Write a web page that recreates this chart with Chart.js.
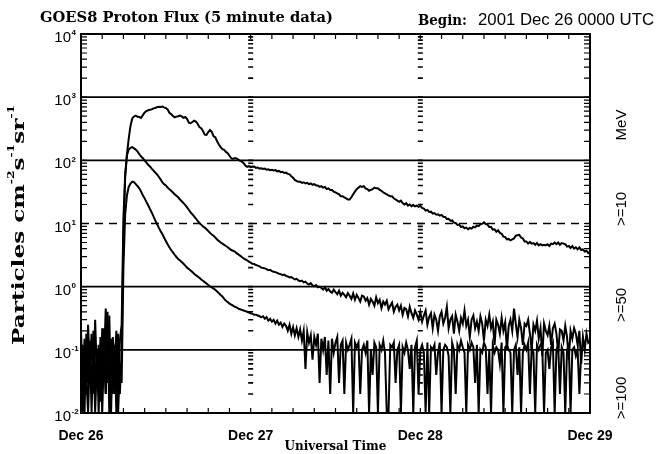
<!DOCTYPE html>
<html>
<head>
<meta charset="utf-8">
<script src="https://cdn.jsdelivr.net/npm/chart.js@4.4.1/dist/chart.umd.min.js"></script>
<style>
  html, body { margin: 0; padding: 0; background: #fff; }
  canvas { display: block; }
</style>
</head>
<body>
<canvas id="flux" width="657" height="454"></canvas>
<script>
// 15 minute samples, Dec 26 00:00 UTC to Dec 29 00:00 UTC (one row per hour)
const STEP_HOURS = 0.25;

// >=10 MeV integral proton flux (pfu)
const p10Flux = [
  0.2, 0.03, 0.15, 0.02,
  0.25, 0.05, 0.18, 0.02,
  0.3, 0.04, 0.12, 0.015,
  0.22, 0.06, 0.45, 0.03,
  0.35, 0.02, 0.16, 0.05,
  0.2, 0.03, 0.14, 0.25,
  12, 60, 125, 220,
  350, 460, 495, 510,
  490, 485, 470, 520,
  575, 600, 620, 630,
  640, 665, 675, 695,
  705, 700, 712, 690,
  672, 640, 565, 540,
  505, 480, 492, 500,
  512, 495, 470, 485,
  455, 395, 388, 405,
  425, 410, 380, 335,
  322, 292, 255, 252,
  280, 302, 282, 240,
  232, 200, 178, 162,
  150, 147, 136, 130,
  118, 108, 105, 109,
  107, 103, 98, 96,
  90, 83, 79, 81,
  78, 79, 80, 76,
  77, 74, 75, 73,
  74, 71, 72, 70,
  71, 69, 70, 67,
  68, 65, 66, 63,
  64, 61, 60, 56,
  53, 49, 47, 46,
  46, 44, 45, 43,
  44, 42, 43, 41,
  42, 40, 40, 38,
  39, 37, 38, 35,
  36, 34, 34, 32,
  31, 30, 29, 27,
  27, 26, 25, 24,
  24, 26, 29, 32,
  35, 37, 39, 38,
  39, 36, 35, 33,
  34, 35, 37, 36,
  36, 34, 33, 31,
  30, 29, 28, 27,
  27, 25, 24, 23,
  22, 23, 21, 20,
  21, 19.2, 20, 18.8,
  19.6, 18.7, 19.2, 18.4,
  19, 17.6, 17.2, 16,
  16.4, 15.2, 15.4, 14.3,
  14.6, 13.8, 14, 13.3,
  13.7, 12.8, 12.7, 11.8,
  11.9, 11.1, 11.2, 10.3,
  10.2, 9.5, 9.6, 8.8,
  9, 8.4, 8.6, 8.1,
  8.5, 8.3, 8.9, 8.7,
  9.3, 9.1, 9.8, 9.9,
  10.4, 9.8, 9.6, 8.8,
  8.8, 8, 8.1, 7.4,
  7.8, 7.1, 6.9, 6.2,
  6.1, 5.6, 5.7, 5.4,
  5.6, 5.8, 6.4, 6.5,
  6.6, 6, 5.8, 5.2,
  5.2, 4.8, 5.1, 4.8,
  4.9, 4.6, 4.9, 4.5,
  4.7, 4.5, 4.6, 4.5,
  4.7, 4.4, 4.8, 4.7,
  5, 4.7, 5, 4.6,
  4.9, 4.8, 4.7, 4.3,
  4.4, 4.1, 4.4, 4.0,
  4.2, 3.9, 4.2, 3.8,
  3.9, 3.6, 3.7, 3.4,
  3.6
];

// >=50 MeV
const p50Flux = [
  0.02, 0.12, 0.01, 0.18,
  0.03, 0.14, 0.01, 0.2,
  0.02, 0.1, 0.01, 0.16,
  0.03, 0.22, 0.02, 0.4,
  0.01, 0.15, 0.02, 0.12,
  0.01, 0.18, 0.02, 0.1,
  6, 55, 120, 148,
  158, 162, 155, 148,
  138, 125, 115, 108,
  100, 92, 85, 80,
  74, 69, 64, 60,
  55, 50, 45, 42,
  40, 37, 35, 33,
  31, 29, 27.5, 26,
  24, 22.5, 21, 19.5,
  18, 16.5, 15, 14,
  13, 12, 11, 10.2,
  9.6, 9, 8.6, 8.1,
  7.6, 7.1, 6.7, 6.4,
  6, 5.6, 5.3, 5,
  4.8, 4.6, 4.4, 4.2,
  4, 3.8, 3.7, 3.6,
  3.4, 3.25, 3.1, 2.95,
  2.8, 2.7, 2.6, 2.5,
  2.4, 2.3, 2.28, 2.2,
  2.15, 2.1, 2.0, 1.98,
  1.95, 1.9, 1.82, 1.85,
  1.76, 1.72, 1.7, 1.65,
  1.6, 1.58, 1.52, 1.55,
  1.48, 1.45, 1.4, 1.42,
  1.36, 1.3, 1.33, 1.26,
  1.22, 1.25, 1.17, 1.2,
  1.12, 1.08, 1.14, 1.05,
  1.02, 1.06, 0.98, 1.0,
  0.95, 0.9, 0.98, 0.86,
  0.92, 0.84, 0.8, 0.9,
  0.82, 0.76, 0.86, 0.72,
  0.8, 0.74, 0.68, 0.79,
  0.72, 0.64, 0.78, 0.62,
  0.74, 0.66, 0.58, 0.72,
  0.7, 0.6, 0.66, 0.52,
  0.64, 0.58, 0.5, 0.68,
  0.55, 0.62, 0.46, 0.58,
  0.52, 0.6, 0.44, 0.5,
  0.56, 0.4, 0.48, 0.52,
  0.42, 0.5, 0.36, 0.46,
  0.44, 0.34, 0.48, 0.38,
  0.32, 0.42, 0.36, 0.3,
  0.4, 0.28, 0.35, 0.42,
  0.25, 0.33, 0.38, 0.22,
  0.36, 0.3, 0.2, 0.34,
  0.4, 0.26, 0.32, 0.48,
  0.22, 0.3, 0.34, 0.18,
  0.36, 0.28, 0.2, 0.32,
  0.26, 0.42, 0.24, 0.3,
  0.16, 0.3, 0.35, 0.22,
  0.28, 0.2, 0.34, 0.26,
  0.14, 0.3, 0.24, 0.36,
  0.22, 0.28, 0.12, 0.3,
  0.25, 0.18, 0.32, 0.2,
  0.27, 0.1, 0.24, 0.3,
  0.2, 0.45, 0.26, 0.16,
  0.3, 0.22, 0.12, 0.26,
  0.24, 0.3, 0.18, 0.1,
  0.25, 0.2, 0.29, 0.15,
  0.22, 0.08, 0.26, 0.2,
  0.17, 0.24, 0.12, 0.22,
  0.26, 0.18, 0.09, 0.21,
  0.2, 0.14, 0.24, 0.16,
  0.07, 0.2, 0.15, 0.22,
  0.18, 0.12, 0.2, 0.06,
  0.16, 0.1, 0.18, 0.13,
  0.14
];

// >=100 MeV (0.01 = empty sample, sits on the bottom axis)
const p100Flux = [
  0.06, 0.01, 0.1, 0.04,
  0.01, 0.08, 0.02, 0.12,
  0.01, 0.07, 0.03, 0.1,
  0.01, 0.09, 0.02, 0.15,
  0.04, 0.01, 0.12, 0.02,
  0.08, 0.01, 0.06, 0.03,
  2, 14, 28, 38,
  43, 46, 45, 42,
  39, 36, 32, 28,
  25, 22, 19.5, 17,
  15, 13, 11.2, 9.8,
  8.6, 7.6, 6.8, 6,
  5.3, 4.7, 4.2, 3.8,
  3.5, 3.2, 2.95, 2.75,
  2.6, 2.45, 2.3, 2.15,
  2.0, 1.9, 1.8, 1.7,
  1.6, 1.52, 1.45, 1.38,
  1.3, 1.24, 1.18, 1.12,
  1.06, 1.01, 0.97, 0.93,
  0.89, 0.84, 0.79, 0.74,
  0.7, 0.64, 0.6, 0.57,
  0.54, 0.52, 0.5, 0.48,
  0.47, 0.45, 0.44, 0.43,
  0.42, 0.41, 0.4, 0.39,
  0.38, 0.37, 0.36, 0.36,
  0.35, 0.34, 0.33, 0.34,
  0.31, 0.33, 0.29, 0.31,
  0.28, 0.3, 0.26, 0.29,
  0.25, 0.27, 0.23, 0.26,
  0.24, 0.2, 0.25, 0.18,
  0.23, 0.17, 0.22, 0.16,
  0.21, 0.14, 0.2, 0.05,
  0.19, 0.13, 0.17, 0.07,
  0.16, 0.12, 0.18, 0.03,
  0.15, 0.1, 0.16, 0.04,
  0.14, 0.02, 0.15, 0.09,
  0.13, 0.16, 0.03, 0.12,
  0.14, 0.02, 0.13, 0.1,
  0.12, 0.15, 0.01, 0.13,
  0.11, 0.13, 0.02, 0.1,
  0.12, 0.09, 0.14, 0.01,
  0.1, 0.04, 0.13, 0.11,
  0.01, 0.12, 0.1, 0.14,
  0.09, 0.01, 0.01, 0.12,
  0.11, 0.13, 0.03, 0.1,
  0.12, 0.01, 0.11, 0.09,
  0.13, 0.1, 0.05, 0.12,
  0.01, 0.11, 0.14, 0.02,
  0.1, 0.12, 0.09, 0.01,
  0.13, 0.01, 0.11, 0.1,
  0.12, 0.04, 0.09, 0.13,
  0.01, 0.1, 0.12, 0.11,
  0.08, 0.01, 0.13, 0.1,
  0.02, 0.12, 0.1, 0.14,
  0.11, 0.09, 0.01, 0.12,
  0.1, 0.13, 0.11, 0.03,
  0.12, 0.01, 0.1, 0.09,
  0.13, 0.11, 0.02, 0.1,
  0.01, 0.12, 0.09, 0.11,
  0.1, 0.06, 0.13, 0.01,
  0.11, 0.12, 0.1, 0.09,
  0.01, 0.1, 0.12, 0.04,
  0.11, 0.01, 0.09, 0.12,
  0.1, 0.13, 0.02, 0.11,
  0.09, 0.01, 0.12, 0.1,
  0.12, 0.11, 0.01, 0.09,
  0.1, 0.05, 0.11, 0.13,
  0.01, 0.1, 0.12, 0.02,
  0.11, 0.09, 0.01, 0.1,
  0.12, 0.01, 0.1, 0.11,
  0.08, 0.1, 0.02, 0.09,
  0.1
];

const dayLabels = ['Dec 26', 'Dec 27', 'Dec 28', 'Dec 29'];
const decadeTicks = [1e-2, 1e-1, 1e0, 1e1, 1e2, 1e3, 1e4];
const decadeExps = ['-2', '-1', '0', '1', '2', '3', '4'];
const energyLabels = ['>=100', '>=50', '>=10', 'MeV'];
const THRESHOLD = 10; // dashed line at 10 pfu

const SERIF = '"DejaVu Serif", "Liberation Serif", serif';
const SANS = '"Liberation Sans", Arial, sans-serif';

function toPoints(values) {
  return values.map((v, i) => ({ x: i * STEP_HOURS, y: v }));
}

function lineSet(label, values) {
  return {
    label: label,
    data: toPoints(values),
    borderColor: '#000',
    borderWidth: 2,
    pointRadius: 0,
    tension: 0,
    fill: false
  };
}

// draws text squeezed/stretched to a given width
function fitText(ctx, text, x, y, width) {
  const w = ctx.measureText(text).width;
  ctx.save();
  ctx.translate(x, y);
  ctx.scale(width / w, 1);
  ctx.fillText(text, 0, 0);
  ctx.restore();
}

function vertText(ctx, text, x, y, font) {
  ctx.save();
  ctx.translate(x, y);
  ctx.rotate(-Math.PI / 2);
  ctx.font = font;
  ctx.textAlign = 'center';
  ctx.textBaseline = 'middle';
  ctx.fillText(text, 0, 0);
  ctx.restore();
}

const fluxFrame = {
  id: 'fluxFrame',

  beforeDatasetsDraw(chart) {
    const { ctx, chartArea: a, scales: { y } } = chart;
    ctx.save();
    ctx.strokeStyle = '#000';
    ctx.lineWidth = 1.6;
    decadeTicks.slice(1, -1).forEach(v => {
      const py = y.getPixelForValue(v);
      ctx.setLineDash(v === THRESHOLD ? [8, 6] : []);
      ctx.beginPath();
      ctx.moveTo(a.left, py);
      ctx.lineTo(a.right, py);
      ctx.stroke();
    });
    ctx.restore();
  },

  afterDatasetsDraw(chart) {
    const { ctx, chartArea: a, scales: { x, y } } = chart;
    ctx.save();
    ctx.strokeStyle = '#000';

    // minor log positions 2..9 x 10^n, plus the decades themselves
    const logTicks = [];
    for (let n = -2; n < 4; n++) {
      for (let k = 1; k < 10; k++) logTicks.push(k * Math.pow(10, n));
    }

    ctx.lineWidth = 1.2;
    ctx.beginPath();
    logTicks.forEach(v => {
      const py = y.getPixelForValue(v);
      ctx.moveTo(a.left, py);
      ctx.lineTo(a.left + 6, py);
      ctx.moveTo(a.right, py);
      ctx.lineTo(a.right - 6, py);
    });

    // 3 hour ticks on top and bottom edges
    for (let h = 3; h < 72; h += 3) {
      const px = x.getPixelForValue(h);
      ctx.moveTo(px, a.top);
      ctx.lineTo(px, a.top + 5);
      ctx.moveTo(px, a.bottom);
      ctx.lineTo(px, a.bottom - 5);
    }
    ctx.stroke();

    // day boundaries marked by a column of short dashes at the log ticks
    ctx.lineWidth = 1.6;
    ctx.beginPath();
    x.ticks.slice(1, -1).forEach(t => {
      const px = x.getPixelForValue(t.value);
      logTicks.forEach(v => {
        const py = y.getPixelForValue(v);
        ctx.moveTo(px - 2.5, py);
        ctx.lineTo(px + 2.5, py);
      });
    });
    ctx.stroke();

    // frame
    ctx.lineWidth = 2;
    ctx.strokeRect(a.left, a.top, a.right - a.left, a.bottom - a.top);
    ctx.restore();
  },

  afterDraw(chart) {
    const { ctx, chartArea: a, scales: { y } } = chart;
    ctx.save();
    ctx.fillStyle = '#000';

    // decade labels with raised exponents
    decadeTicks.forEach((v, i) => {
      const py = y.getPixelForValue(v);
      ctx.font = '15px ' + SANS;
      ctx.textAlign = 'right';
      ctx.textBaseline = 'middle';
      ctx.fillText('10', a.left - 10, py + 4);
      ctx.font = 'bold 8px ' + SANS;
      ctx.textAlign = 'left';
      ctx.fillText(decadeExps[i], a.left - 9.5, py - 1);
    });

    // title line
    ctx.textBaseline = 'alphabetic';
    ctx.textAlign = 'left';
    ctx.font = 'bold 15px ' + SERIF;
    fitText(ctx, 'GOES8 Proton Flux (5 minute data)', 40, 22, 293);
    fitText(ctx, 'Begin:', 418, 25, 49);
    ctx.font = '16px ' + SANS;
    fitText(ctx, '2001 Dec 26 0000 UTC', 478, 25, 176);

    // x axis title
    ctx.font = 'bold 12px ' + SERIF;
    ctx.textAlign = 'center';
    ctx.textBaseline = 'middle';
    ctx.fillText('Universal Time', (a.left + a.right) / 2, 447);

    // y axis title with superscript units
    const parts = [['Particles cm', false], ['-2', true], ['s', false], ['-1', true], ['sr', false], ['-1', true]];
    const bigFont = 'bold 17px ' + SERIF;
    const supFont = 'bold 9px ' + SERIF;
    let total = 0;
    parts.forEach(p => { ctx.font = p[1] ? supFont : bigFont; total += ctx.measureText(p[0]).width; });
    const sx = 240 / total;
    ctx.save();
    ctx.translate(20, 225);
    ctx.rotate(-Math.PI / 2);
    ctx.scale(sx, 1);
    ctx.textAlign = 'left';
    ctx.textBaseline = 'middle';
    let cx = -total / 2;
    parts.forEach(p => {
      ctx.font = p[1] ? supFont : bigFont;
      ctx.fillText(p[0], cx, p[1] ? -8 : 0);
      cx += ctx.measureText(p[0]).width;
    });
    ctx.restore();

    // energy channel labels on the right
    const energyY = [398, 305, 209, 125];
    energyLabels.forEach((t, i) => vertText(ctx, t, 622, energyY[i], '15px ' + SANS));

    ctx.restore();
  }
};

new Chart(document.getElementById('flux'), {
  type: 'line',
  data: {
    datasets: [
      lineSet('>=10 MeV', p10Flux),
      lineSet('>=50 MeV', p50Flux),
      lineSet('>=100 MeV', p100Flux)
    ]
  },
  options: {
    responsive: false,
    animation: false,
    layout: { padding: { top: 34, right: 67, left: 0, bottom: 0 } },
    plugins: {
      legend: { display: false },
      tooltip: { enabled: false }
    },
    scales: {
      x: {
        type: 'linear',
        min: 0,
        max: 72,
        afterFit: s => { s.height = 41; },
        grid: { display: false, drawTicks: false },
        border: { display: false },
        ticks: {
          stepSize: 24,
          autoSkip: false,
          maxRotation: 0,
          padding: 15,
          color: '#000',
          font: { family: SANS, size: 14, weight: 'bold' },
          callback: v => dayLabels[v / 24]
        }
      },
      y: {
        type: 'logarithmic',
        min: 0.01,
        max: 10000,
        afterFit: s => { s.width = 81; },
        afterBuildTicks: s => { s.ticks = decadeTicks.map(v => ({ value: v })); },
        grid: { display: false, drawTicks: false },
        border: { display: false },
        ticks: { display: false }
      }
    }
  },
  plugins: [fluxFrame]
});
</script>
</body>
</html>
